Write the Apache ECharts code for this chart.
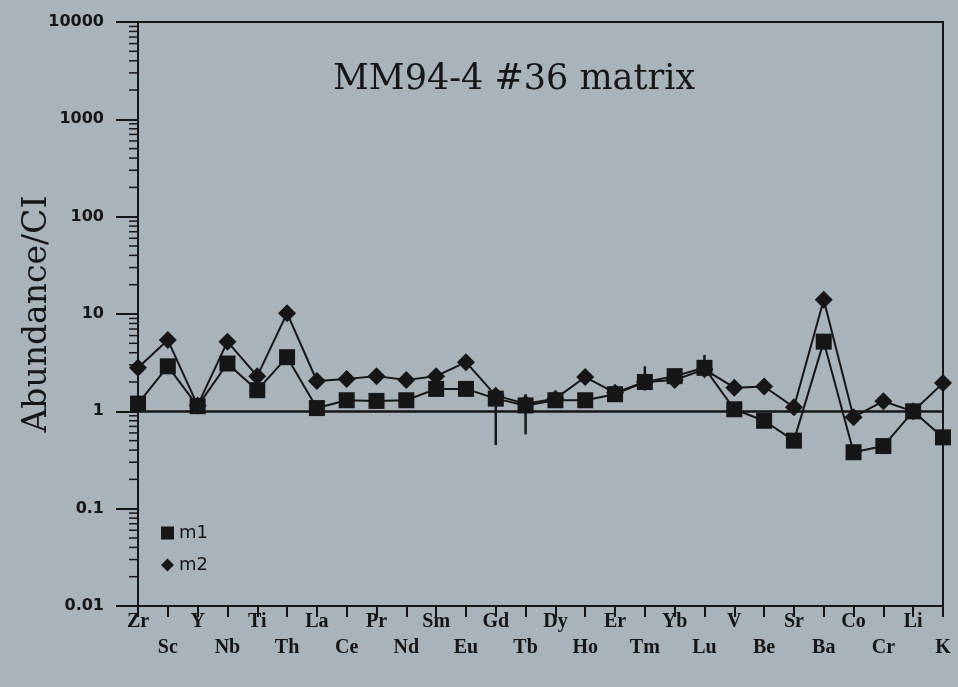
<!DOCTYPE html>
<html>
<head>
<meta charset="utf-8">
<script src="https://cdn.jsdelivr.net/npm/echarts@6/dist/echarts.min.js"></script>
<style>
html,body{margin:0;padding:0;background:#a9b3ba;}
#c{width:958px;height:687px;}
</style>
</head>
<body>
<div id="c"></div>
<script>
var categories = ['Zr','Sc','Y','Nb','Ti','Th','La','Ce','Pr','Nd','Sm','Eu','Gd','Tb','Dy','Ho','Er','Tm','Yb','Lu','V','Be','Sr','Ba','Co','Cr','Li','K'];
var m1 = [1.2, 2.9, 1.13, 3.1, 1.65, 3.6, 1.08, 1.3, 1.28, 1.3, 1.7, 1.7, 1.35, 1.15, 1.3, 1.3, 1.5, 2.0, 2.3, 2.8, 1.05, 0.8, 0.5, 5.2, 0.38, 0.44, 1.0, 0.54];
var m2 = [2.8, 5.4, 1.15, 5.2, 2.3, 10.2, 2.05, 2.15, 2.3, 2.1, 2.3, 3.2, 1.45, 1.2, 1.35, 2.25, 1.55, 2.0, 2.1, 2.7, 1.75, 1.8, 1.1, 14, 0.87, 1.27, 1.0, 1.95];
var m2ErrLow  = [null,null,null,null,null,null,null,null,null,null,null,null,0.45,0.58,null,null,null,1.8,null,2.3,null,null,null,null,null,null,null,null];
var m2ErrHigh = [null,null,null,null,null,null,null,null,null,null,null,null,1.45,1.5,null,null,null,2.9,null,3.8,null,null,null,null,null,null,null,null];
var yTickLabels = ['0.01','0.1','1','10','100','1000','10000'];
var titleText = 'MM94-4 #36 matrix';
var yName = 'Abundance/CI';

var ink = '#161616';
var decades = yTickLabels.map(Number);
var minorVals = [];
for (var d = 0; d < decades.length - 1; d++) {
  for (var k = 2; k <= 9; k++) minorVals.push([0, decades[d] * k]);
}
var errData = [];
for (var i = 0; i < categories.length; i++) {
  if (m2ErrLow[i] != null) errData.push([i, m2ErrLow[i], m2ErrHigh[i]]);
}

var chart = echarts.init(document.getElementById('c'));
chart.setOption({
  backgroundColor: '#a9b3ba',
  animation: false,
  title: {
    text: titleText,
    left: 328, top: 57,
    textStyle: {fontFamily: 'DejaVu Serif', fontSize: 35, fontWeight: 'normal', color: ink}
  },
  legend: {
    orient: 'vertical',
    left: 156, top: 519,
    itemWidth: 13, itemHeight: 13, itemGap: 14,
    textStyle: {fontFamily: 'DejaVu Sans', fontSize: 18, color: ink},
    data: [
      {name: 'm1', icon: 'rect', itemStyle: {color: ink}},
      {name: 'm2', icon: 'diamond', itemStyle: {color: ink}}
    ]
  },
  grid: {left: 138, right: 15, top: 22, bottom: 81, show: true, borderColor: ink, borderWidth: 2, backgroundColor: 'transparent', outerBoundsMode: 'none', containLabel: false},
  xAxis: {
    type: 'category',
    data: categories,
    boundaryGap: false,
    axisLine: {lineStyle: {color: ink, width: 2}},
    axisTick: {show: true, interval: 0, length: 11, lineStyle: {color: ink, width: 2}},
    axisLabel: {
      interval: 0, margin: 3, color: ink,
      fontFamily: 'Liberation Serif', fontWeight: 'bold', fontSize: 20, lineHeight: 26,
      formatter: function (v, idx) { return idx % 2 ? '\n' + v : v; }
    },
    splitLine: {show: false}
  },
  yAxis: {
    type: 'log',
    logBase: 10,
    min: 0.01, max: 10000,
    name: yName,
    nameLocation: 'middle',
    nameGap: 84,
    nameMoveOverlap: false,
    nameRotate: 90,
    nameTextStyle: {fontFamily: 'DejaVu Serif', fontSize: 33, color: ink},
    axisLine: {show: true, lineStyle: {color: ink, width: 2}},
    axisTick: {show: true, length: 22, lineStyle: {color: ink, width: 2}},
    axisLabel: {
      margin: 34, color: ink, fontFamily: 'DejaVu Sans', fontWeight: 'bold', fontSize: 16,
      formatter: function (v) {
        var s = yTickLabels.filter(function (t) { return Math.abs(Number(t) - v) / v < 1e-6; });
        return s.length ? s[0] : '';
      }
    },
    splitLine: {show: false}
  },
  series: [
    {
      name: 'minor', type: 'custom', data: minorVals, silent: true, z: 5,
      renderItem: function (params, api) {
        var p = api.coord([0, api.value(1)]);
        return {type: 'line', shape: {x1: p[0] - 9, y1: p[1], x2: p[0], y2: p[1]}, style: {stroke: ink, lineWidth: 1.5}};
      }
    },
    {
      name: 'm1', type: 'line', data: m1,
      symbol: 'rect', symbolSize: 16,
      lineStyle: {color: ink, width: 2},
      itemStyle: {color: ink},
      z: 3,
      markLine: {
        silent: true, symbol: 'none', label: {show: false},
        lineStyle: {color: ink, width: 2.5, type: 'solid'},
        data: [{yAxis: 1}]
      }
    },
    {
      name: 'm2', type: 'line', data: m2,
      symbol: 'diamond', symbolSize: 18,
      lineStyle: {color: ink, width: 2},
      itemStyle: {color: ink},
      z: 4
    },
    {
      name: 'err', type: 'custom', data: errData, silent: true, z: 6,
      renderItem: function (params, api) {
        var a = api.coord([api.value(0), api.value(1)]);
        var b = api.coord([api.value(0), api.value(2)]);
        return {type: 'line', shape: {x1: a[0], y1: a[1], x2: b[0], y2: b[1]}, style: {stroke: ink, lineWidth: 2.5}};
      }
    }
  ]
});
</script>
</body>
</html>
